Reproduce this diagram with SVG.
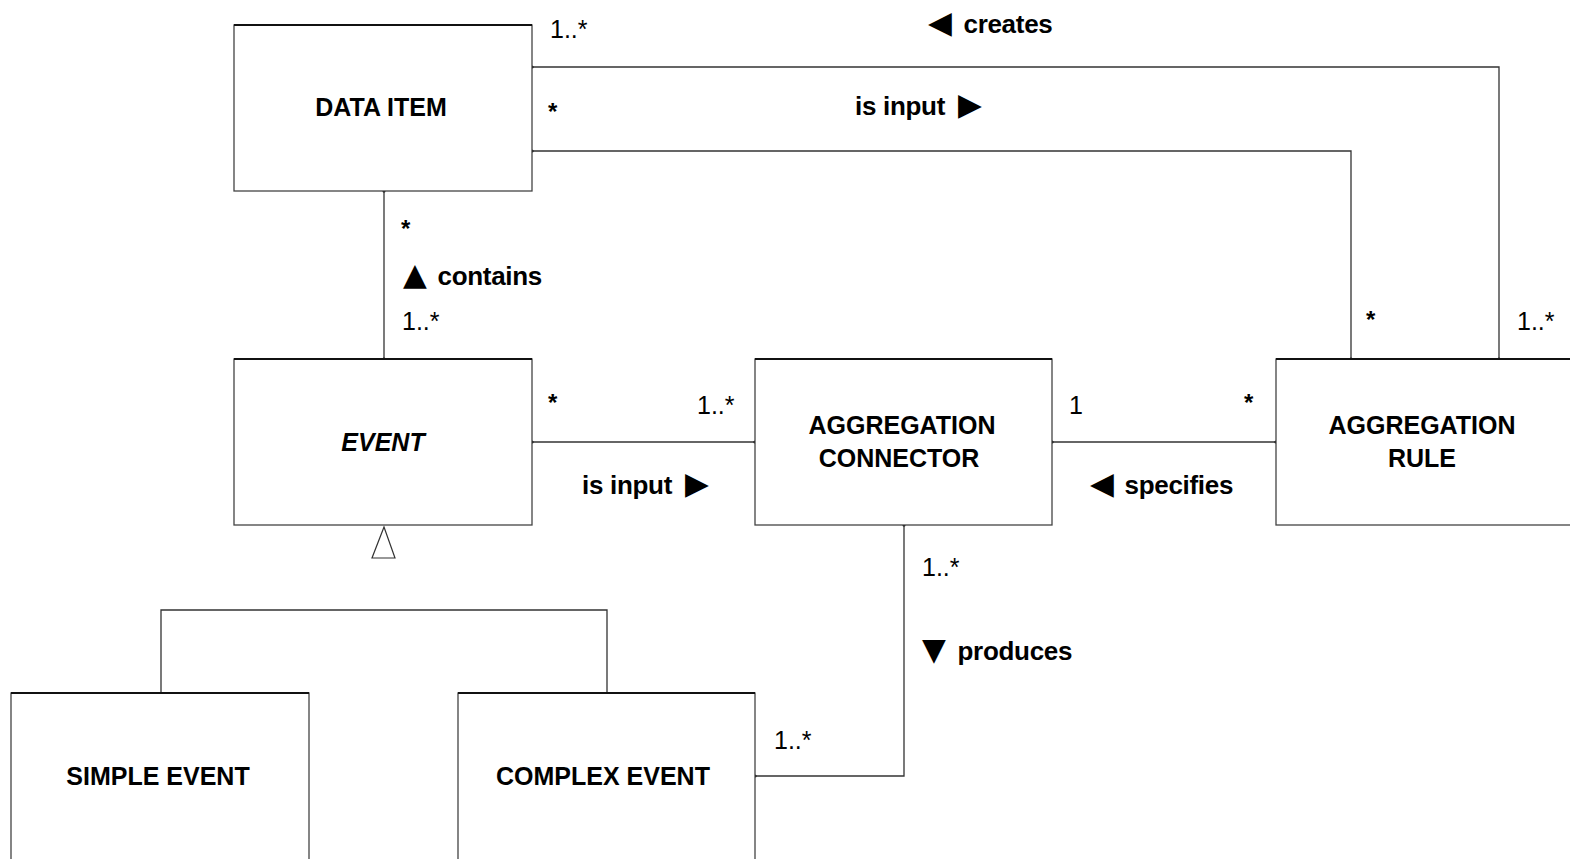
<svg xmlns="http://www.w3.org/2000/svg" width="1570" height="859" viewBox="0 0 1570 859">
<style>
.box{fill:#fff;stroke:#444;stroke-width:1.3}
.top{stroke:#111;stroke-width:2}
.ln{fill:none;stroke:#333;stroke-width:1.3}
.dot{fill:#111}
text{font-family:"Liberation Sans","DejaVu Sans",Arial,sans-serif;fill:#000}
.name{font-size:25px;font-weight:bold;text-anchor:middle}
.lab{font-size:26px;font-weight:bold;letter-spacing:-0.3px}
.mul{font-size:25px}
.star{font-size:24px;font-weight:bold}
.tri{font-family:"DejaVu Sans",sans-serif;font-size:31px;font-weight:normal}
</style>
<rect width="1570" height="859" fill="#fff"/>
<g id="connectors">
<polyline class="ln" points="532,67 1499,67 1499,359"/>
<polyline class="ln" points="532,151 1351,151 1351,359"/>
<line class="ln" x1="384" y1="191" x2="384" y2="359"/>
<line class="ln" x1="532" y1="442" x2="755" y2="442"/>
<line class="ln" x1="1052" y1="442" x2="1276" y2="442"/>
<polyline class="ln" points="904,525 904,776 755,776"/>
<polygon points="384,527 372,558 395,558" fill="#fff" stroke="#333" stroke-width="1.2"/>
<polyline class="ln" points="161,693 161,610 607,610 607,693"/>
<circle class="dot" cx="532" cy="67" r="1.6"/>
<circle class="dot" cx="532" cy="151" r="1.6"/>
<circle class="dot" cx="1499" cy="359" r="1.6"/>
<circle class="dot" cx="1351" cy="359" r="1.6"/>
<circle class="dot" cx="384" cy="191" r="1.6"/>
<circle class="dot" cx="384" cy="359" r="1.6"/>
<circle class="dot" cx="532" cy="442" r="1.6"/>
<circle class="dot" cx="755" cy="442" r="1.6"/>
<circle class="dot" cx="1052" cy="442" r="1.6"/>
<circle class="dot" cx="1276" cy="442" r="1.6"/>
<circle class="dot" cx="904" cy="525" r="1.6"/>
<circle class="dot" cx="755" cy="776" r="1.6"/>
</g>
<g id="labels">
<text class="mul" x="550" y="38">1..*</text>
<text class="star" x="548" y="120">*</text>
<text class="lab" x="928" y="33"><tspan class="tri">◀</tspan> <tspan dx="5">creates</tspan></text>
<text class="lab" x="855" y="115">is input <tspan class="tri" dx="6">▶</tspan></text>
<text class="star" x="1366" y="328">*</text>
<text class="mul" x="1517" y="330">1..*</text>
<text class="star" x="401" y="237">*</text>
<text class="lab" x="403" y="285"><tspan class="tri">▲</tspan> <tspan dx="4">contains</tspan></text>
<text class="mul" x="402" y="330">1..*</text>
<text class="star" x="548" y="411">*</text>
<text class="mul" x="697" y="414">1..*</text>
<text class="lab" x="582" y="494">is input <tspan class="tri" dx="6">▶</tspan></text>
<text class="mul" x="1069" y="414">1</text>
<text class="star" x="1244" y="411">*</text>
<text class="lab" x="1090" y="494"><tspan class="tri">◀</tspan> <tspan dx="4">specifies</tspan></text>
<text class="mul" x="922" y="576">1..*</text>
<text class="lab" x="922" y="660"><tspan class="tri">▼</tspan> <tspan dx="5">produces</tspan></text>
<text class="mul" x="774" y="749">1..*</text>
</g>
<g id="data-item">
<rect class="box" x="234" y="25" width="298" height="166"/>
<line class="top" x1="234" y1="25" x2="532" y2="25"/>
<text class="name" x="381" y="116">DATA ITEM</text>
</g>
<g id="event">
<rect class="box" x="234" y="359" width="298" height="166"/>
<line class="top" x1="234" y1="359" x2="532" y2="359"/>
<text class="name" x="383" y="451" font-style="italic">EVENT</text>
</g>
<g id="aggregation-connector">
<rect class="box" x="755" y="359" width="297" height="166"/>
<line class="top" x1="755" y1="359" x2="1052" y2="359"/>
<text class="name" x="902" y="434">AGGREGATION</text>
<text class="name" x="899" y="467">CONNECTOR</text>
</g>
<g id="aggregation-rule">
<rect class="box" x="1276" y="359" width="310" height="166"/>
<line class="top" x1="1276" y1="359" x2="1570" y2="359"/>
<text class="name" x="1422" y="434">AGGREGATION</text>
<text class="name" x="1422" y="467">RULE</text>
</g>
<g id="simple-event">
<rect class="box" x="11" y="693" width="298" height="180"/>
<line class="top" x1="11" y1="693" x2="309" y2="693"/>
<text class="name" x="158" y="785">SIMPLE EVENT</text>
</g>
<g id="complex-event">
<rect class="box" x="458" y="693" width="297" height="180"/>
<line class="top" x1="458" y1="693" x2="755" y2="693"/>
<text class="name" x="603" y="785">COMPLEX EVENT</text>
</g>
</svg>
